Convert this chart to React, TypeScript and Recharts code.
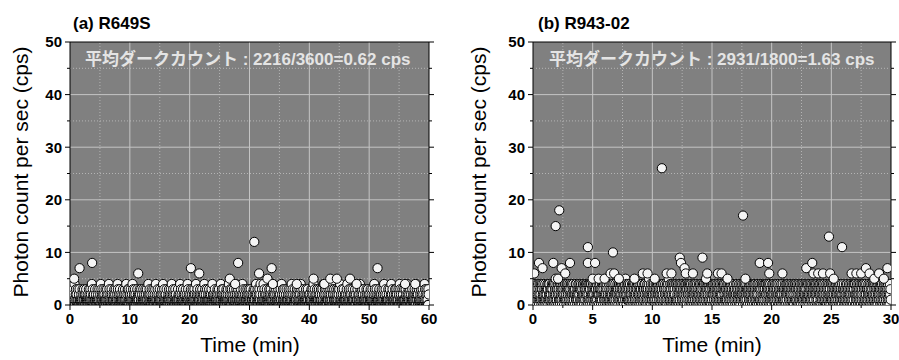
import { ScatterChart, Scatter, XAxis, YAxis, ReferenceLine, ReferenceArea } from 'recharts';

const FONT = '"Liberation Sans", Arial, sans-serif';
const JP_FONT = '"Liberation Sans", "Noto Sans CJK JP", sans-serif';

// R649S: counts per 3 s bin over 60 min
const countsA = [
  "0120310021302104100231200130102031100120",
  "1030210312002130110210031201302104013021",
  "2001310201103120013002140312010230120113",
  "0102310021403102001320101120310203100124",
  "3010201302101012031002103120410023013012",
  "1203100214031020130210011302101203200130",
  "0210130120013021031002410230120013102103",
  "1002130410201300211031020120310420130012",
  "2013001102130120031240102310020130211010",
  "0312010240130210013020112003102104130201",
  "1020310120310021302104012030120110231002",
  "0130210024103120013010210312001203104120",
  "2100312010120310203100214012302103012011",
  "0213010231040120310023101120301021403120",
  "1030211002130120410230100213011203102013",
  "2010302110120031021302401203100213012400",
  "0130120401302100213011020130210312001402",
  "1203012003110210301200213104020130120310",
  "0021301102130021030124013020100312011023",
  "3100201302140310020130210102130012031020",
  "0211010320130241003120102130110230120013",
  "1020310042013020130102113002103120401302",
  "2013100210310201302031040120130021031012",
  "0102130401203100213020110310201203012041",
  "1300210214030120310201301102001302103120",
  "0210131020130012041302100312010120310201",
  "2031002130412003102101013020130012402130",
  "1002110302130210013020413021001302110310",
  "0130201402103120031020113012010230120413",
  "2102003111020310201302100413020130210032",
].join('').split('').map(Number);

// R649S: isolated higher counts [min, cps]
const peaksA: [number, number][] = [
  [0.7, 5], [1.6, 7], [3.7, 8], [11.4, 6], [20.2, 7], [21.6, 6], [26.7, 5],
  [27.6, 4], [28.1, 8], [30.8, 12], [31.6, 6], [33.0, 5], [33.7, 7], [33.9, 4],
  [37.9, 4], [40.7, 5], [42.5, 4], [43.5, 5], [44.6, 5], [46.8, 5], [47.9, 4],
  [51.4, 7], [56.0, 4], [57.7, 4],
];

// R943-02: counts per 1.5 s bin over 30 min
const countsB = [
  "2140321043132401243102413241034312041230",
  "1423102341304124213023140314204102341203",
  "1342043121041324103224310241431204314230",
  "3142031420421304213203241412032143024310",
  "3410231424102341324042310421340314241023",
  "2413024130134241023240231431023142403241",
  "1204321403125041320142301243104213024132",
  "0324130241432104231403124023415230412314",
  "4132041230214304123402143201340241320413",
  "2031424103213402413032140321452031240312",
  "1423041320143204132402314023140231420413",
  "3024130214032415203142031420413024132041",
  "0413204132041324032140231402314023410324",
  "2143024130421302413204312403214032104231",
  "4023140231402413204132403124031420314024",
  "1324023140324103241302413024132041230413",
  "4021341302143024132041324013240213421302",
  "2413042132041230412324130241324103241302",
  "0324132041324103214302413240132041324013",
  "3142031402413204132402413024314023140231",
  "2041324132041302413240213042132041320413",
  "1320413024132403241302413204132041302413",
  "4132041302431024130241324103241320413241",
  "0241320413241302413204132403241302413024",
  "3024130241324013240132041302413204132041",
  "2413204132041302413204312403214032104231",
  "1340213024130421302413204132041302413420",
  "4201324130241320413024132404130241302413",
  "0312403214023140231420413204132041302413",
  "2143024130421302413204312403214032104231",
].join('').split('').map(Number);

const peaksB: [number, number][] = [
  [0.1, 6], [0.5, 8], [0.8, 7], [1.7, 8], [1.9, 15], [1.9, 5], [2.1, 5], [2.2, 18],
  [2.4, 7], [2.7, 6], [3.1, 8], [4.6, 11], [4.6, 8], [5.2, 8], [5.0, 5], [5.5, 5],
  [6.0, 5], [6.5, 6], [6.7, 10], [6.8, 6], [7.2, 5], [8.5, 5], [9.2, 6], [9.6, 6],
  [10.2, 5], [10.8, 26], [11.2, 6], [11.6, 6], [12.3, 9], [12.4, 8], [12.7, 7],
  [12.8, 6], [13.4, 6], [14.2, 9], [14.5, 5], [14.6, 6], [15.5, 6], [15.8, 6],
  [16.3, 5], [17.6, 17], [17.8, 5], [19.0, 8], [19.7, 8], [19.8, 6], [20.9, 6],
  [22.9, 7], [23.4, 8], [23.5, 6], [23.9, 6], [24.3, 6], [24.8, 13], [24.9, 6],
  [25.2, 5], [25.9, 11], [26.7, 6], [27.1, 6], [27.5, 6], [27.9, 7], [28.2, 6],
  [28.6, 5], [29.0, 6], [29.4, 5], [29.7, 7],
];

const yTicks = [0, 5, 10, 15, 20, 25, 30, 35, 40, 45, 50];
const yMajorGrid = [10, 20, 30, 40];
const yMinorGrid = [5, 15, 25, 35, 45];

const xTicksA = [0, 5, 10, 15, 20, 25, 30, 35, 40, 45, 50, 55, 60];
const xMajorGridA = [10, 20, 30, 40, 50];
const xMinorGridA = [5, 15, 25, 35, 45, 55];

const xTicksB = [0, 2.5, 5, 7.5, 10, 12.5, 15, 17.5, 20, 22.5, 25, 27.5, 30];
const xMajorGridB = [5, 10, 15, 20, 25];
const xMinorGridB = [2.5, 7.5, 12.5, 17.5, 22.5, 27.5];

function makeTick(side: string, step: number, label: boolean) {
  return (props: any) => {
    const { x, y, payload } = props;
    const major = Math.abs(payload.value % step) < 1e-6;
    const len = major ? 5 : 3;
    const s = { stroke: '#000', strokeWidth: 1 };
    let line = null;
    let text = null;
    if (side === 'bottom') {
      line = <line x1={x} y1={y} x2={x} y2={y + len} {...s} />;
      if (label && major)
        text = <text x={x} y={y + 8} dy="0.75em" textAnchor="middle" fontSize={15} fontWeight="bold" fontFamily={FONT} fill="#000">{payload.value}</text>;
    } else if (side === 'left') {
      line = <line x1={x} y1={y} x2={x - len} y2={y} {...s} />;
      if (label && major)
        text = <text x={x - 8} y={y} dy="0.36em" textAnchor="end" fontSize={15} fontWeight="bold" fontFamily={FONT} fill="#000">{payload.value}</text>;
    } else if (side === 'top') {
      line = <line x1={x} y1={y} x2={x} y2={y - (major ? 4 : 3)} {...s} />;
    } else {
      line = <line x1={x} y1={y} x2={x + len} y2={y} {...s} />;
    }
    return <g>{line}{text}</g>;
  };
}

const Dot = (p: any) => (
  <circle cx={p.cx} cy={p.cy} r={4.6} fill="#f4f4f4" stroke="#000" strokeWidth={1} />
);

interface PanelProps {
  left: number;
  width: number;
  yAxisWidth: number;
  rightMargin: number;
  xMax: number;
  xTicks: number[];
  xStep: number;
  xMajor: number[];
  xMinor: number[];
  counts: number[];
  peaks: [number, number][];
}

function Panel(p: PanelProps) {
  const n = p.counts.length;
  const base = p.counts.map((v, i) => ({ t: (i / n) * p.xMax, v }));
  const high = p.peaks.map(([t, v]) => ({ t, v }));
  return (
    <div style={{ position: 'absolute', left: p.left, top: 0 }}>
      <ScatterChart width={p.width} height={360} margin={{ top: 36, right: p.rightMargin, bottom: 0, left: 0 }}>
        <XAxis xAxisId="b" dataKey="t" type="number" domain={[0, p.xMax]} ticks={p.xTicks} interval={0}
          height={55} tickSize={0} tickMargin={0} tickLine={false} axisLine={{ stroke: '#000' }}
          tick={makeTick('bottom', p.xStep, true)} allowDataOverflow />
        <XAxis xAxisId="t" orientation="top" type="number" domain={[0, p.xMax]} ticks={p.xTicks} interval={0}
          height={6} tickSize={0} tickMargin={0} tickLine={false} axisLine={{ stroke: '#000' }}
          tick={makeTick('top', p.xStep, false)} allowDataOverflow />
        <YAxis yAxisId="l" dataKey="v" type="number" domain={[0, 50]} ticks={yTicks} interval={0}
          width={p.yAxisWidth} tickSize={0} tickMargin={0} tickLine={false} axisLine={{ stroke: '#000' }}
          tick={makeTick('left', 10, true)} allowDataOverflow />
        <YAxis yAxisId="r" orientation="right" type="number" domain={[0, 50]} ticks={yTicks} interval={0}
          width={8} tickSize={0} tickMargin={0} tickLine={false} axisLine={{ stroke: '#000' }}
          tick={makeTick('right', 10, false)} allowDataOverflow />
        <ReferenceArea xAxisId="b" yAxisId="l" x1={0} x2={p.xMax} y1={0} y2={50} fill="#808080" fillOpacity={1} stroke="none" />
        {p.xMinor.map((v) => (
          <ReferenceLine key={'xm' + v} xAxisId="b" yAxisId="l" x={v} stroke="#b4b4b4" strokeDasharray="1 2" />
        ))}
        {yMinorGrid.map((v) => (
          <ReferenceLine key={'ym' + v} xAxisId="b" yAxisId="l" y={v} stroke="#b4b4b4" strokeDasharray="1 2" />
        ))}
        {p.xMajor.map((v) => (
          <ReferenceLine key={'xM' + v} xAxisId="b" yAxisId="l" x={v} stroke="#c4c4c4" />
        ))}
        {yMajorGrid.map((v) => (
          <ReferenceLine key={'yM' + v} xAxisId="b" yAxisId="l" y={v} stroke="#c4c4c4" />
        ))}
        <Scatter xAxisId="b" yAxisId="l" data={base} shape={Dot} isAnimationActive={false} />
        <Scatter xAxisId="b" yAxisId="l" data={high} shape={Dot} isAnimationActive={false} />
      </ScatterChart>
    </div>
  );
}

const titleStyle: React.CSSProperties = {
  position: 'absolute', top: 14, fontFamily: FONT, fontWeight: 'bold', fontSize: 17, color: '#000', whiteSpace: 'nowrap',
};
const noteStyle: React.CSSProperties = {
  position: 'absolute', top: 45, fontFamily: JP_FONT, fontWeight: 'bold', fontSize: 17, color: '#e4e4e4', whiteSpace: 'nowrap',
};
const yLabelStyle: React.CSSProperties = {
  position: 'absolute', top: 172, fontFamily: FONT, fontSize: 21, color: '#000', whiteSpace: 'nowrap',
  transform: 'translate(-50%, -50%) rotate(-90deg)',
};
const xLabelStyle: React.CSSProperties = {
  position: 'absolute', top: 333, fontFamily: FONT, fontSize: 21, color: '#000', whiteSpace: 'nowrap',
  transform: 'translateX(-50%)',
};

export default function App() {
  return (
    <div style={{ position: 'absolute', left: 0, top: 0, width: 899, height: 360, background: '#fff', overflow: 'hidden' }}>
      <Panel left={0} width={450} yAxisWidth={70} rightMargin={13} xMax={60} xTicks={xTicksA} xStep={10}
        xMajor={xMajorGridA} xMinor={xMinorGridA} counts={countsA} peaks={peaksA} />
      <Panel left={450} width={449} yAxisWidth={83} rightMargin={0} xMax={30} xTicks={xTicksB} xStep={5}
        xMajor={xMajorGridB} xMinor={xMinorGridB} counts={countsB} peaks={peaksB} />
      <div style={{ ...titleStyle, left: 73 }}>(a) R649S</div>
      <div style={{ ...titleStyle, left: 538 }}>(b) R943-02</div>
      <div style={{ ...noteStyle, left: 85 }}>平均ダークカウント : 2216/3600=0.62 cps</div>
      <div style={{ ...noteStyle, left: 549 }}>平均ダークカウント : 2931/1800=1.63 cps</div>
      <div style={{ ...yLabelStyle, left: 21 }}>Photon count per sec (cps)</div>
      <div style={{ ...yLabelStyle, left: 479 }}>Photon count per sec (cps)</div>
      <div style={{ ...xLabelStyle, left: 250 }}>Time (min)</div>
      <div style={{ ...xLabelStyle, left: 712 }}>Time (min)</div>
    </div>
  );
}
